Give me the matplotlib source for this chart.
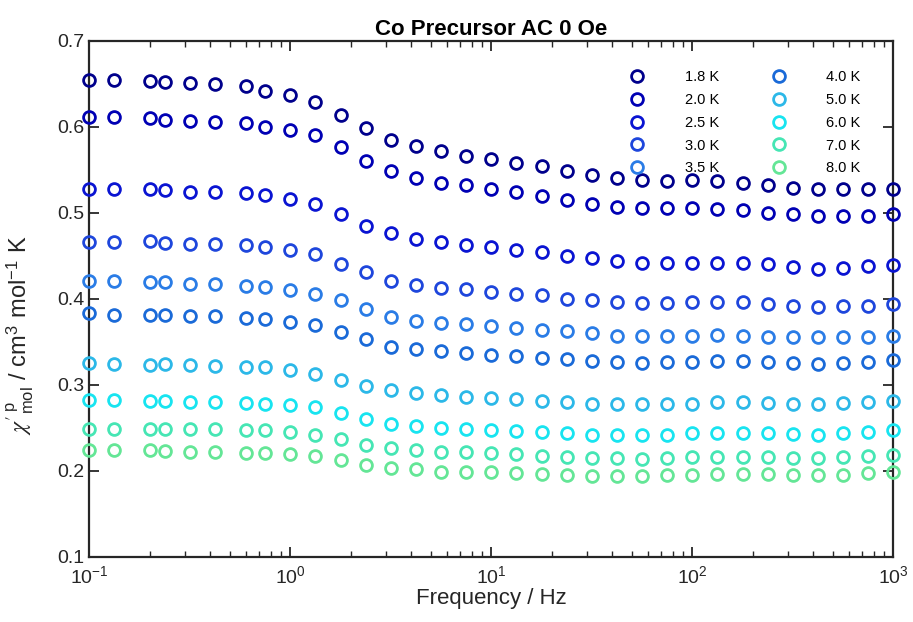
import matplotlib
matplotlib.use('Agg')
import matplotlib.pyplot as plt
from matplotlib.ticker import LogLocator, FixedLocator

plt.rcParams['font.family'] = ['Liberation Sans', 'DejaVu Sans']
plt.rcParams['mathtext.fontset'] = 'stix'

# Frequencies (Hz)
freq = [0.1, 0.133, 0.2, 0.237, 0.316, 0.422, 0.6, 0.75, 1.0, 1.33, 1.78, 2.37,
        3.16, 4.22, 5.62, 7.5, 10, 13.3, 17.8, 23.7, 31.6, 42.2, 56.2, 75,
        100, 133, 178, 237, 316, 422, 562, 750, 1000]

temps = ['1.8 K', '2.0 K', '2.5 K', '3.0 K', '3.5 K',
         '4.0 K', '5.0 K', '6.0 K', '7.0 K', '8.0 K']

chi_18 = [0.654, 0.654, 0.653, 0.652, 0.651, 0.650, 0.647, 0.642, 0.637, 0.629, 0.614,
          0.598, 0.585, 0.577, 0.572, 0.566, 0.562, 0.558, 0.554, 0.549, 0.544,
          0.540, 0.538, 0.537, 0.538, 0.537, 0.535, 0.532, 0.529, 0.527, 0.527,
          0.528, 0.528]
chi_20 = [0.611, 0.611, 0.610, 0.608, 0.607, 0.606, 0.604, 0.600, 0.596, 0.590, 0.576,
          0.560, 0.549, 0.540, 0.535, 0.532, 0.528, 0.524, 0.519, 0.515, 0.510,
          0.507, 0.505, 0.505, 0.505, 0.504, 0.503, 0.500, 0.498, 0.496, 0.496,
          0.496, 0.499]
chi_25 = [0.527, 0.527, 0.528, 0.526, 0.524, 0.524, 0.523, 0.520, 0.516, 0.510, 0.499,
          0.485, 0.476, 0.469, 0.466, 0.462, 0.460, 0.457, 0.454, 0.450, 0.447,
          0.444, 0.442, 0.442, 0.442, 0.442, 0.442, 0.440, 0.437, 0.435, 0.436,
          0.438, 0.439]
chi_30 = [0.466, 0.466, 0.467, 0.465, 0.464, 0.464, 0.462, 0.460, 0.457, 0.452, 0.440,
          0.431, 0.421, 0.416, 0.413, 0.411, 0.408, 0.406, 0.404, 0.400, 0.398,
          0.396, 0.395, 0.395, 0.396, 0.396, 0.396, 0.394, 0.392, 0.390, 0.391,
          0.392, 0.394]
chi_35 = [0.420, 0.420, 0.419, 0.419, 0.417, 0.417, 0.415, 0.414, 0.410, 0.406, 0.398,
          0.388, 0.379, 0.374, 0.372, 0.370, 0.368, 0.366, 0.364, 0.362, 0.360,
          0.357, 0.357, 0.357, 0.357, 0.358, 0.357, 0.356, 0.355, 0.355, 0.355,
          0.356, 0.357]
chi_40 = [0.383, 0.381, 0.381, 0.381, 0.380, 0.380, 0.377, 0.376, 0.373, 0.369, 0.361,
          0.353, 0.344, 0.341, 0.339, 0.337, 0.335, 0.333, 0.331, 0.330, 0.328,
          0.326, 0.325, 0.326, 0.326, 0.327, 0.328, 0.326, 0.325, 0.324, 0.325,
          0.326, 0.329]
chi_50 = [0.325, 0.324, 0.323, 0.324, 0.323, 0.322, 0.321, 0.320, 0.317, 0.313, 0.306,
          0.299, 0.294, 0.290, 0.288, 0.286, 0.285, 0.283, 0.281, 0.280, 0.278,
          0.278, 0.277, 0.278, 0.278, 0.280, 0.280, 0.279, 0.278, 0.278, 0.279,
          0.280, 0.281]
chi_60 = [0.282, 0.282, 0.281, 0.281, 0.280, 0.280, 0.279, 0.278, 0.276, 0.274, 0.267,
          0.260, 0.254, 0.252, 0.250, 0.249, 0.247, 0.246, 0.245, 0.244, 0.242,
          0.242, 0.242, 0.242, 0.244, 0.244, 0.244, 0.244, 0.243, 0.242, 0.244,
          0.245, 0.247]
chi_70 = [0.249, 0.249, 0.249, 0.249, 0.248, 0.248, 0.247, 0.247, 0.245, 0.242, 0.237,
          0.230, 0.226, 0.224, 0.222, 0.222, 0.220, 0.219, 0.217, 0.216, 0.215,
          0.215, 0.214, 0.215, 0.216, 0.216, 0.216, 0.216, 0.215, 0.215, 0.216,
          0.217, 0.218]
chi_80 = [0.224, 0.224, 0.224, 0.223, 0.222, 0.222, 0.221, 0.221, 0.219, 0.217, 0.212,
          0.207, 0.203, 0.202, 0.199, 0.199, 0.198, 0.197, 0.196, 0.195, 0.194,
          0.194, 0.194, 0.195, 0.195, 0.196, 0.196, 0.196, 0.195, 0.195, 0.195,
          0.197, 0.198]

series = [chi_18, chi_20, chi_25, chi_30, chi_35, chi_40, chi_50, chi_60, chi_70, chi_80]
colors = ['#00008c', '#0000b4', '#0a14d2', '#1e46dc', '#2a7ce6',
          '#1a6ad8', '#2cb8e8', '#18e4f0', '#46e6b4', '#64e696']

fig = plt.figure(figsize=(9.13, 6.22), dpi=100)
ax = fig.add_axes([0.098, 0.105, 0.8805, 0.8296])

for vals, col, lab in zip(series, colors, temps):
    ax.plot(freq, vals, linestyle='none', marker='o', markersize=8.5,
            markerfacecolor='none', markeredgecolor=col, markeredgewidth=2,
            label=lab, clip_on=False, zorder=3)

ax.set_xscale('log')
ax.set_xlim(0.1, 1000)
ax.set_ylim(0.1, 0.7)
ax.yaxis.set_major_locator(FixedLocator([0.1, 0.2, 0.3, 0.4, 0.5, 0.6, 0.7]))
ax.set_yticklabels(['0.1', '0.2', '0.3', '0.4', '0.5', '0.6', '0.7'])
ax.xaxis.set_major_locator(LogLocator(base=10, numticks=10))
ax.xaxis.set_minor_locator(LogLocator(base=10, subs=range(2, 10), numticks=20))

for sp in ax.spines.values():
    sp.set_linewidth(1.6)
    sp.set_color('#262626')
ax.tick_params(which='both', direction='in', top=True, right=True,
               colors='#262626', labelcolor='#262626', labelsize=14)
ax.tick_params(which='major', length=7, width=1.3)
ax.tick_params(which='minor', length=4, width=1.0)
ax.tick_params(axis='x', pad=6)

ax.set_xlabel('Frequency / Hz', fontsize=16, color='#262626', labelpad=1)
ax.set_ylabel(r"$\chi'^{\,\mathregular{p}}_{\mathregular{mol}}$ / cm$^{\mathregular{3}}$ mol$^{\mathregular{-1}}$ K",
              fontsize=17, color='#262626')
ax.yaxis.set_label_coords(-0.066, 0.43)
ax.set_title('Co Precursor AC 0 Oe', fontsize=16, fontweight='bold', pad=4)

ax.legend(ncol=2, frameon=False, fontsize=10.5, loc='upper left',
          bbox_to_anchor=(0.647, 0.968), handletextpad=2.25,
          columnspacing=3.1, labelspacing=0.6, handlelength=2)

fig.savefig('out.png', dpi=100)
